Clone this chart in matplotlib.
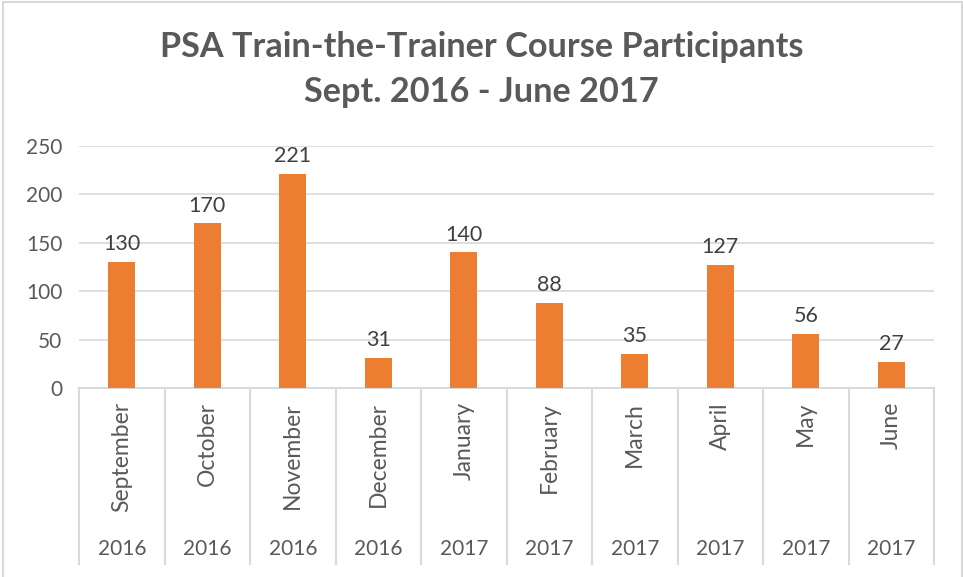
import matplotlib.pyplot as plt
from matplotlib.patches import Rectangle
import matplotlib.transforms as mtransforms

months = ['September', 'October', 'November', 'December', 'January',
          'February', 'March', 'April', 'May', 'June']
years = ['2016', '2016', '2016', '2016', '2017',
         '2017', '2017', '2017', '2017', '2017']
participants = [130, 170, 221, 31, 140, 88, 35, 127, 56, 27]

W, H = 963, 577
plt.rcParams['font.family'] = ['Lato', 'DejaVu Sans']

fig = plt.figure(figsize=(W / 100, H / 100), dpi=100)

# plot area in pixels: x 79..934, y 146..388
ax = fig.add_axes([79 / W, (H - 388) / H, (934 - 79) / W, (388 - 146) / H])

x = range(len(months))
ax.bar(x, participants, width=0.32, color='#ED7D31', zorder=3)
for i, v in zip(x, participants):
    ax.text(i, v + 8, str(v), ha='center', va='bottom', fontsize=15.5, color='#404040')

ax.set_xlim(-0.5, len(months) - 0.5)
ax.set_ylim(0, 250)
ax.set_yticks(range(0, 251, 50))
ax.tick_params(axis='y', length=0, labelsize=15, labelcolor='#595959', pad=12)
ax.set_xticks([])
ax.grid(axis='y', color='#D9D9D9', linewidth=1.2, zorder=0)
for s in ['top', 'right', 'left']:
    ax.spines[s].set_visible(False)
ax.spines['bottom'].set_color('#D9D9D9')
ax.spines['bottom'].set_linewidth(1.5)

# multi-level category axis
trans = mtransforms.blended_transform_factory(ax.transData, ax.transAxes)
depth = -(564 - 388) / (388 - 146)
for b in range(len(months) + 1):
    ax.plot([b - 0.5, b - 0.5], [0, depth], color='#D9D9D9', linewidth=1.5,
            transform=trans, clip_on=False)
for i in x:
    ax.text(i, -(402 - 388) / (388 - 146), months[i], rotation=90, ha='center', va='top',
            fontsize=16.5, color='#595959', transform=trans)
    ax.text(i, -(549 - 388) / (388 - 146), years[i], ha='center', va='center',
            fontsize=15, color='#595959', transform=trans)

fig.text(0.5, (H - 47) / H, 'PSA Train-the-Trainer Course Participants',
         ha='center', va='center', fontsize=24.7, fontweight='bold', color='#595959')
fig.text(0.5, (H - 92) / H, 'Sept. 2016 - June 2017',
         ha='center', va='center', fontsize=24.7, fontweight='bold', color='#595959')

fig.patches.append(Rectangle((3 / W, -0.05), (962 - 3) / W, (H - 2) / H + 0.05,
                             transform=fig.transFigure, fill=False,
                             edgecolor='#D9D9D9', linewidth=1.5))

fig.savefig('out.png', dpi=100)
